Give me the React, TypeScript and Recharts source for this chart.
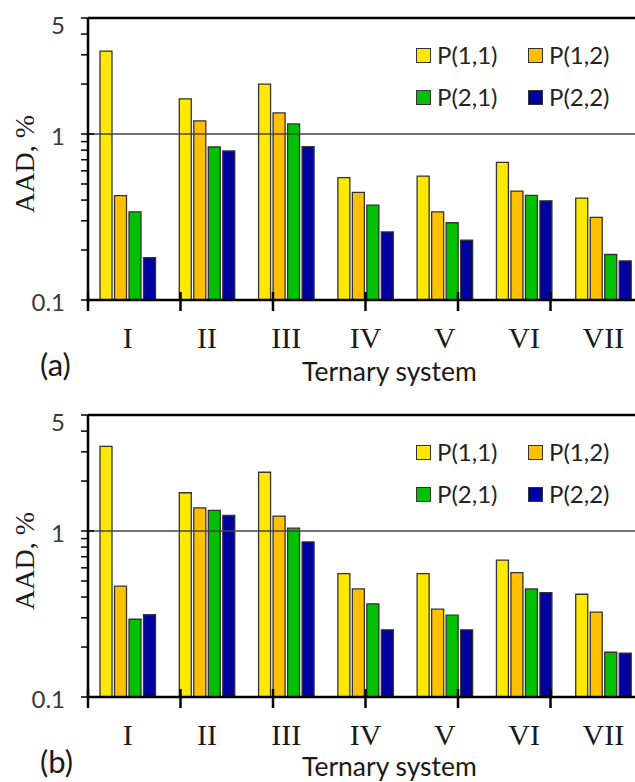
import React from 'react';
import { BarChart, Bar, XAxis, YAxis, ReferenceLine, Legend, Label } from 'recharts';

const categories = ['I', 'II', 'III', 'IV', 'V', 'VI', 'VII'];
const seriesNames = ['P(1,1)', 'P(1,2)', 'P(2,1)', 'P(2,2)'];
const seriesColors = ['#FFE800', '#FFC000', '#00C000', '#0000A0'];

// panel (a)
const a11 = [3.16, 1.63, 2.0, 0.546, 0.558, 0.675, 0.411];
const a12 = [0.425, 1.2, 1.34, 0.445, 0.34, 0.453, 0.315];
const a21 = [0.34, 0.835, 1.15, 0.373, 0.292, 0.427, 0.188];
const a22 = [0.18, 0.79, 0.84, 0.257, 0.229, 0.396, 0.172];

// panel (b)
const b11 = [3.24, 1.7, 2.26, 0.554, 0.554, 0.667, 0.416];
const b12 = [0.465, 1.38, 1.23, 0.448, 0.338, 0.561, 0.325];
const b21 = [0.294, 1.33, 1.04, 0.364, 0.311, 0.448, 0.186];
const b22 = [0.313, 1.24, 0.859, 0.254, 0.254, 0.426, 0.184];

const yTicks = [0.1, 0.2, 0.3, 0.4, 0.5, 0.6, 0.7, 0.8, 0.9, 1, 2, 3, 4, 5];
const yLabels = [0.1, 1, 5];
const boundaryTicks = [0, 1, 2, 3, 4, 5, 6, 7];

const SANS = 'Lato, "Open Sans", sans-serif';
const SERIF = '"Liberation Serif", "DejaVu Serif", serif';

const buildRows = (s1: number[], s2: number[], s3: number[], s4: number[]) =>
  categories.map((c, i) => ({ name: c, s1: s1[i], s2: s2[i], s3: s3[i], s4: s4[i] }));

const dataA = buildRows(a11, a12, a21, a22);
const dataB = buildRows(b11, b12, b21, b22);

// tick label x = axisX - 23 (tickSize 7 + tickMargin 16)
const YTick = (props: any) => {
  const { x, y, payload } = props;
  const v = payload.value;
  const axisX = x + 23;
  const isMajor = yLabels.includes(v);
  const lineEnd = v === 1 ? axisX + 6 : axisX;
  return (
    <g>
      <line x1={axisX - 7} x2={lineEnd} y1={y} y2={y} stroke="#000" strokeWidth={1.5} />
      {isMajor && (
        <text
          x={x}
          y={y + (v === 5 ? 6 : 1)}
          textAnchor="end"
          dominantBaseline="central"
          fontFamily={SANS}
          fontSize={24}
          fill="#3a3a3a"
        >
          {String(v)}
        </text>
      )}
    </g>
  );
};

const XCatTick = (props: any) => {
  const { x, y, payload } = props;
  return (
    <text x={x} y={y + 48} textAnchor="middle" fontFamily={SERIF} fontSize={30} fill="#1a1a1a">
      {payload.value}
    </text>
  );
};

const BoundaryTick = (props: any) => {
  const { x, y } = props;
  return <line x1={x} x2={x} y1={y - 9} y2={y + 10} stroke="#000" strokeWidth={2.5} />;
};

const renderLegend = (props: any) => {
  const { payload } = props;
  return (
    <div style={{ display: 'grid', gridTemplateColumns: '112px 112px' }}>
      {(payload || []).map((e: any) => (
        <div key={e.value} style={{ display: 'flex', alignItems: 'center', height: 42 }}>
          <span
            style={{
              display: 'inline-block',
              width: 13,
              height: 13,
              background: e.color,
              border: '1.5px solid #333',
              marginRight: 6,
            }}
          />
          <span style={{ fontFamily: SANS, fontSize: 24, color: '#222', lineHeight: 1 }}>{e.value}</span>
        </div>
      ))}
    </div>
  );
};

const YLabel = (props: any) => {
  const vb = props.viewBox || { x: 0, y: 18, width: 88, height: 282 };
  const cx = 24;
  const cy = vb.y + vb.height / 2 + 5;
  return (
    <text
      x={cx}
      y={cy}
      transform={`rotate(-90, ${cx}, ${cy})`}
      textAnchor="middle"
      dominantBaseline="central"
      fontFamily={SERIF}
      fontSize={28}
      fill="#1a1a1a"
    >
      AAD, %
    </text>
  );
};

const Panel = ({ data, tag, top, titleTop }: { data: any[]; tag: string; top: number; titleTop: number }) => (
  <div style={{ position: 'absolute', left: 0, top, width: 660, height: 397 }}>
    <BarChart
      width={660}
      height={397}
      data={data}
      margin={{ top: 18, right: 17, left: 0, bottom: 95 }}
      barSize={12}
      barGap={2.5}
    >
      <XAxis
        xAxisId="b"
        type="number"
        domain={[0, 7]}
        ticks={boundaryTicks}
        interval={0}
        height={1}
        axisLine={false}
        tickLine={false}
        tickSize={0}
        tickMargin={0}
        tick={<BoundaryTick />}
      />
      <XAxis
        dataKey="name"
        height={1}
        interval={0}
        tickLine={false}
        tickSize={0}
        tickMargin={0}
        axisLine={false}
        tick={<XCatTick />}
      />
      <YAxis
        scale="log"
        type="number"
        domain={[0.1, 5]}
        allowDataOverflow
        ticks={yTicks}
        interval={0}
        width={88}
        tickSize={7}
        tickMargin={16}
        tickLine={false}
        axisLine={{ stroke: '#000', strokeWidth: 2.5 }}
        tick={<YTick />}
      >
        <Label content={<YLabel />} />
      </YAxis>
      <ReferenceLine y={1} stroke="#444" strokeWidth={1.3} />
      <ReferenceLine y={5} stroke="#000" strokeWidth={2.5} />
      <ReferenceLine y={0.1} stroke="#000" strokeWidth={2.5} />
      <Legend
        layout="horizontal"
        verticalAlign="middle"
        align="center"
        content={renderLegend}
        wrapperStyle={{ left: 416, top: 34, width: 230 }}
      />
      {['s1', 's2', 's3', 's4'].map((k, i) => (
        <Bar
          key={k}
          dataKey={k}
          name={seriesNames[i]}
          fill={seriesColors[i]}
          stroke="#333"
          strokeWidth={1.3}
          isAnimationActive={false}
        />
      ))}
    </BarChart>
    <div
      style={{
        position: 'absolute',
        left: 40,
        top: 346,
        fontFamily: SANS,
        fontSize: 31,
        color: '#1a1a1a',
        lineHeight: '36px',
      }}
    >
      {tag}
    </div>
    <div
      style={{
        position: 'absolute',
        left: 302,
        top: titleTop,
        fontFamily: SANS,
        fontSize: 26.5,
        color: '#1a1a1a',
        lineHeight: '32px',
        whiteSpace: 'nowrap',
      }}
    >
      Ternary system
    </div>
  </div>
);

export default function App() {
  return (
    <div
      style={{
        position: 'absolute',
        left: 0,
        top: 0,
        width: 635,
        height: 782,
        overflow: 'hidden',
        background: '#fff',
      }}
    >
      <Panel data={dataA} tag="(a)" top={0} titleTop={355} />
      <Panel data={dataB} tag="(b)" top={397} titleTop={353} />
    </div>
  );
}
